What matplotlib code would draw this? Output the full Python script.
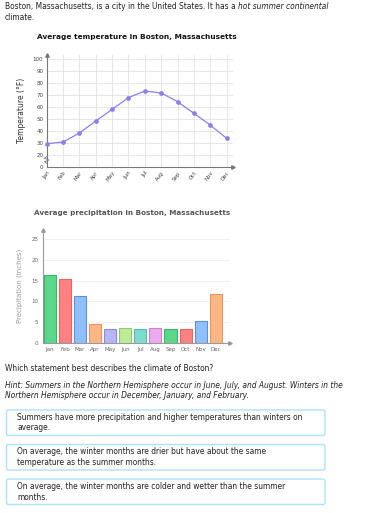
import matplotlib
matplotlib.use("Agg")
import matplotlib.pyplot as plt
from matplotlib.patches import FancyBboxPatch

# Data
months = ['Jan', 'Feb', 'Mar', 'Apr', 'May', 'Jun', 'Jul', 'Aug', 'Sep', 'Oct', 'Nov', 'Dec']
temp_f = [29.2, 30.6, 38.1, 48.2, 57.9, 67.7, 73.2, 71.6, 64.3, 54.6, 44.8, 33.7]
precip_in = [16.3, 15.4, 11.2, 4.5, 3.4, 3.5, 3.2, 3.5, 3.4, 3.4, 5.2, 11.7]
temp_ticks = [20, 30, 40, 50, 60, 70, 80, 90, 100]
precip_ticks = [0, 5, 10, 15, 20, 25]

bar_fill = ['#5bd68a', '#ff8181', '#8fc0fb', '#ffb787', '#b8b6f6', '#bdeb98',
            '#7ddccd', '#eeaaf0', '#5bd68a', '#ff8181', '#8fc0fb', '#ffb787']
bar_edge = ['#3cb56c', '#e86565', '#5d90e0', '#e8955f', '#8f8ae0', '#94c86e',
            '#55bfae', '#c886d4', '#3cb56c', '#e86565', '#5d90e0', '#e8955f']

W, H = 378, 513
fig = plt.figure(figsize=(W / 100, H / 100), dpi=100)
fig.patch.set_facecolor('white')

# background axes in pixel coordinates for text and boxes
bg = fig.add_axes([0, 0, 1, 1])
bg.set_xlim(0, W)
bg.set_ylim(H, 0)
bg.axis('off')

fs = 5.45
txt = dict(fontsize=fs, color='#222222', va='baseline', ha='left')
t1 = bg.text(5, 9, 'Boston, Massachusetts, is a city in the United States. It has a ', **txt)
bg.annotate('hot summer continental', xy=(1, 0), xycoords=t1, va='bottom', ha='left',
            fontsize=fs, color='#222222', style='italic')
bg.text(5, 20, 'climate.', **txt)

bg.text(137, 39, 'Average temperature in Boston, Massachusetts', fontsize=5.3,
        fontweight='bold', ha='center', va='baseline', color='#111111')
bg.text(132, 215, 'Average precipitation in Boston, Massachusetts', fontsize=5.25,
        fontweight='bold', ha='center', va='baseline', color='#555555')

bg.text(5, 371, 'Which statement best describes the climate of Boston?', **txt)
bg.text(5, 388, 'Hint: Summers in the Northern Hemisphere occur in June, July, and August. Winters in the',
        style='italic', **txt)
bg.text(5, 398.5, 'Northern Hemisphere occur in December, January, and February.',
        style='italic', **txt)

answers = [
    ('Summers have more precipitation and higher temperatures than winters on', 'average.'),
    ('On average, the winter months are drier but have about the same', 'temperature as the summer months.'),
    ('On average, the winter months are colder and wetter than the summer', 'months.'),
]
box_tops = [410, 444.5, 479]
for (l1, l2), top in zip(answers, box_tops):
    box = FancyBboxPatch((6.5, top), 318.5, 25.5, boxstyle='round,pad=0,rounding_size=2',
                         facecolor='white', edgecolor='#aee3f6', linewidth=1.0)
    bg.add_patch(box)
    bg.text(17, top + 10, l1, **txt)
    bg.text(17, top + 20.5, l2, **txt)

# Temperature chart
ax1 = fig.add_axes([46.7 / W, 1 - 166.7 / H, (233 - 46.7) / W, (166.7 - 55) / H])
x = list(range(len(months)))
ax1.set_xlim(0, 11.39)
ax1.set_ylim(10, 103.3)
ax1.plot(x, temp_f, color='#8a80ea', lw=0.9, marker='o', ms=2.4, zorder=3, clip_on=False)
ax1.set_yticks([10] + temp_ticks)
ax1.set_yticklabels(['0'] + [str(t) for t in temp_ticks])
ax1.set_xticks(x)
ax1.set_xticklabels(months, rotation=55, ha='right', rotation_mode='anchor')
ax1.tick_params(axis='both', length=0, labelsize=4.0, labelcolor='#444444', pad=2.5)
ax1.grid(True, color='#e3e3e3', lw=0.6)
ax1.set_axisbelow(True)
for s in ['top', 'right']:
    ax1.spines[s].set_visible(False)
for s in ['left', 'bottom']:
    ax1.spines[s].set_color('#777777')
    ax1.spines[s].set_linewidth(0.8)
ax1.plot([1], [0], marker='>', ms=2.5, color='#777777', transform=ax1.transAxes, clip_on=False)
ax1.plot([0], [1], marker='^', ms=2.5, color='#777777', transform=ax1.transAxes, clip_on=False)
# axis break zigzag
ax1.plot([0, -0.012, 0.012, -0.012, 0], [0.03, 0.045, 0.06, 0.075, 0.09],
         color='#777777', lw=0.6, transform=ax1.transAxes, clip_on=False, zorder=4)
ax1.set_ylabel('Temperature (°F)', fontsize=5.5, color='#333333', labelpad=5)

# Precipitation chart
ax2 = fig.add_axes([42.7 / W, 1 - 342.7 / H, (230 - 42.7) / W, (342.7 - 230) / H])
ax2.set_xlim(-0.48, 11.95)
ax2.set_ylim(0, 27.2)
ax2.bar(x, precip_in, width=0.8, color=bar_fill, edgecolor=bar_edge, linewidth=0.8, zorder=3)
ax2.set_yticks(precip_ticks)
ax2.set_xticks(x)
ax2.set_xticklabels(months)
ax2.tick_params(axis='both', length=0, labelsize=4.0, labelcolor='#666666', pad=3)
ax2.grid(True, axis='y', color='#eeeeee', lw=0.6)
ax2.set_axisbelow(True)
for s in ['top', 'right']:
    ax2.spines[s].set_visible(False)
for s in ['left', 'bottom']:
    ax2.spines[s].set_color('#999999')
    ax2.spines[s].set_linewidth(0.8)
ax2.plot([1], [0], marker='>', ms=2.5, color='#999999', transform=ax2.transAxes, clip_on=False)
ax2.plot([0], [1], marker='^', ms=2.5, color='#999999', transform=ax2.transAxes, clip_on=False)
ax2.set_ylabel('Precipitation (inches)', fontsize=5.0, color='#999999', labelpad=6)

fig.savefig('out.png', dpi=100)
